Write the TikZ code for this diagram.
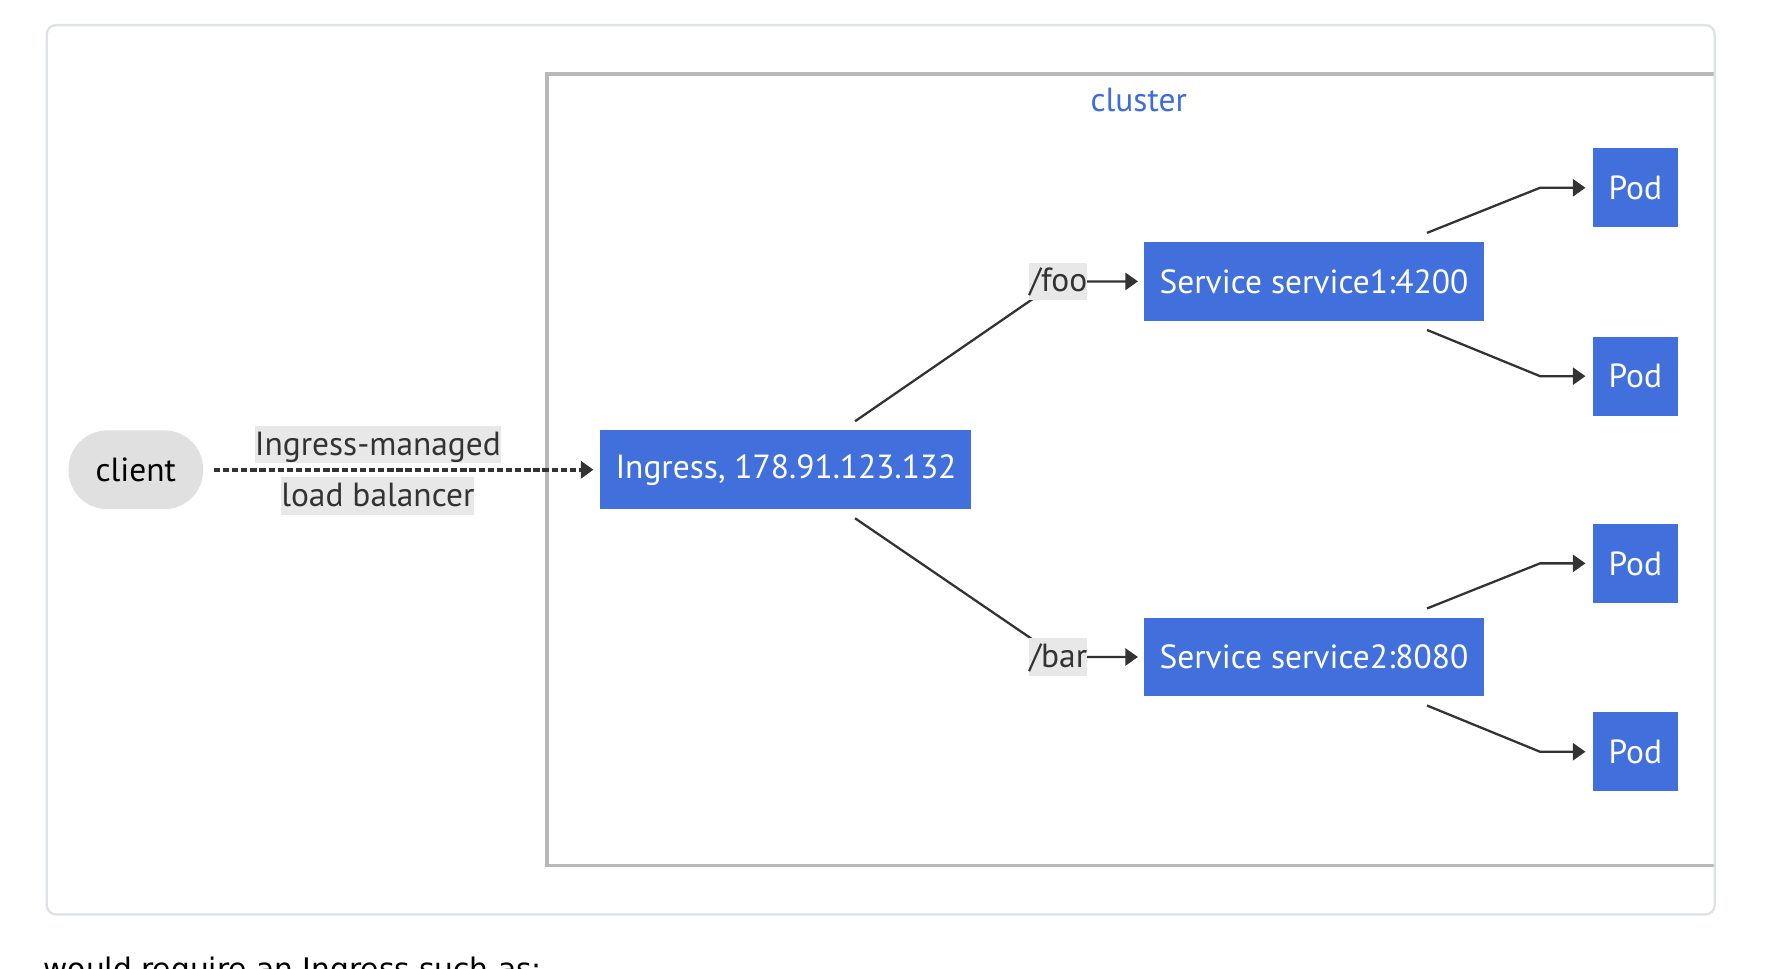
\documentclass[tikz,border=0pt]{standalone}
\usepackage{fontspec}
\setmainfont{PT Sans}
\newfontfamily\captionfont{DejaVu Sans}
\usetikzlibrary{arrows.meta}

\definecolor{nodeBlue}{RGB}{65,112,220}
\definecolor{titleBlue}{RGB}{62,108,222}
\definecolor{labelGrey}{RGB}{232,232,232}
\definecolor{clientGrey}{RGB}{224,224,224}
\definecolor{lineDark}{RGB}{51,51,51}
\definecolor{clusterGrey}{RGB}{184,184,184}
\definecolor{frameGrey}{RGB}{222,226,231}

\tikzset{
  bigFont/.style={font=\fontsize{29.3}{34}\selectfont},
  blueBox/.style={bigFont, fill=nodeBlue, text=white, inner sep=0pt, minimum height=69},
  clientBox/.style={bigFont, fill=clientGrey, text=black, inner sep=0pt, rounded corners=34,
    minimum width=118, minimum height=69},
  edgeLabel/.style={bigFont, fill=labelGrey, text=lineDark, inner xsep=0pt, inner ysep=0pt,
    minimum height=32.5, text height=23.5, text depth=5},
  link/.style={draw=lineDark, line width=2, -{Triangle[length=11,width=15]}},
  dottedLink/.style={link, line width=3.5, dash pattern=on 5.5pt off 2.5pt},
}

\begin{document}
\begin{tikzpicture}[yscale=-1, x=1pt, y=1pt]
    \useasboundingbox (0,0) rectangle (1568,848);
    \clip (0,0) rectangle (1568,848);
    \fill[white] (0,0) rectangle (1568,848);

    % Define the positions of the nodes
    \coordinate (clientPos) at (119, 411.5);
    \coordinate (ingressPos) at (688.5, 411.5);
    \coordinate (service1Pos) at (1151, 246.5);
    \coordinate (service2Pos) at (1151, 575.5);
    \coordinate (pod1Pos) at (1432.5, 164.5);
    \coordinate (pod2Pos) at (1432.5, 329.5);
    \coordinate (pod3Pos) at (1432.5, 493.5);
    \coordinate (pod4Pos) at (1432.5, 658.5);

    % Draw the frame and the cluster
    \draw[clusterGrey, line width=3] (1501,65) -- (479,65) -- (479,758) -- (1501,758);
    \draw[frameGrey, line width=2, rounded corners=8] (41,22) rectangle (1502,801);
    \node[bigFont, text=titleBlue] (clusterTitle) at (997.5,88) {cluster};

    % Draw the nodes
    \node[clientBox] (client) at (clientPos) {client};
    \node[blueBox, minimum width=325] (ingress) at (ingressPos) {Ingress, 178.91.123.132};
    \node[blueBox, minimum width=298] (service1) at (service1Pos) {Service service1:4200};
    \node[blueBox, minimum width=298] (service2) at (service2Pos) {Service service2:8080};
    \node[blueBox, minimum width=75] (pod1) at (pod1Pos) {Pod};
    \node[blueBox, minimum width=75] (pod2) at (pod2Pos) {Pod};
    \node[blueBox, minimum width=75] (pod3) at (pod3Pos) {Pod};
    \node[blueBox, minimum width=75] (pod4) at (pod4Pos) {Pod};

    % Define the bends of the edges
    \coordinate (fooStart) at (749, 369);
    \coordinate (fooBend) at (927, 246.5);
    \coordinate (barStart) at (749, 454);
    \coordinate (barBend) at (927, 575.5);
    \coordinate (s1TopStart) at (1250, 204);
    \coordinate (s1TopBend) at (1349, 164.5);
    \coordinate (s1BotStart) at (1250, 289);
    \coordinate (s1BotBend) at (1349, 329.5);
    \coordinate (s2TopStart) at (1250, 533);
    \coordinate (s2TopBend) at (1349, 493.5);
    \coordinate (s2BotStart) at (1250, 618);
    \coordinate (s2BotBend) at (1349, 658.5);

    % Draw the edges
    \draw[dottedLink, shorten <=9pt, shorten >=6pt] (client) -- (ingress);
    \node[edgeLabel] (lbTop) at (331, 389.5) {Ingress-managed};
    \node[edgeLabel] (lbBottom) at (331, 434.5) {load balancer};

    \draw[link, shorten >=5pt] (fooStart) -- (fooBend) -- (service1.west);
    \node[edgeLabel] (fooLabel) at (fooBend) {/foo};
    \draw[link, shorten >=5pt] (barStart) -- (barBend) -- (service2.west);
    \node[edgeLabel] (barLabel) at (barBend) {/bar};

    \draw[link, shorten >=6pt] (s1TopStart) -- (s1TopBend) -- (pod1.west);
    \draw[link, shorten >=6pt] (s1BotStart) -- (s1BotBend) -- (pod2.west);
    \draw[link, shorten >=6pt] (s2TopStart) -- (s2TopBend) -- (pod3.west);
    \draw[link, shorten >=6pt] (s2BotStart) -- (s2BotBend) -- (pod4.west);

    % Text below the diagram
    \node[font=\captionfont\fontsize{26}{30}\selectfont, anchor=base west, inner sep=0pt,
      text=black] (caption) at (38, 858) {would require an Ingress such as:};
\end{tikzpicture}
\end{document}
